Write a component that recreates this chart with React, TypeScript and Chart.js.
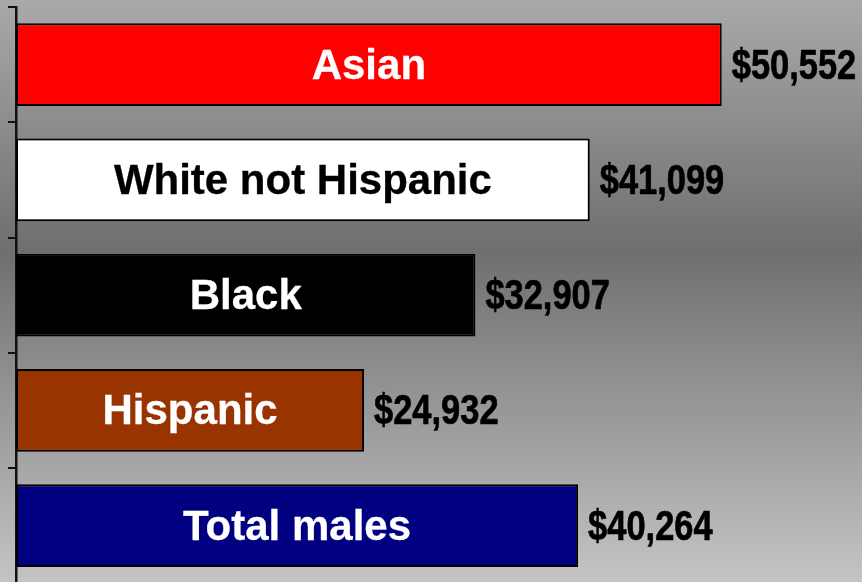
import React, { useEffect, useRef } from "react";
import { Chart, registerables } from "chart.js";

Chart.register(...registerables);

const categories = ["Asian", "White not Hispanic", "Black", "Hispanic", "Total males"];
const earnings = [50552, 41099, 32907, 24932, 40264];
const valueLabels = ["$50,552", "$41,099", "$32,907", "$24,932", "$40,264"];
const barColors = ["#ff0000", "#ffffff", "#000000", "#993300", "#000080"];
const textColors = ["#ffffff", "#000000", "#ffffff", "#ffffff", "#ffffff"];

const bgPlugin = {
  id: "bgGradient",
  beforeDraw(chart: any) {
    const { ctx, width } = chart;
    const g = ctx.createLinearGradient(0, 0, 0, 582);
    g.addColorStop(0, "#a9a9a9");
    g.addColorStop(0.43, "#6f6f6f");
    g.addColorStop(1, "#c4c4c4");
    ctx.save();
    ctx.fillStyle = g;
    ctx.fillRect(0, 0, width, chart.height);
    ctx.restore();
  },
};

const labelPlugin = {
  id: "barLabels",
  afterDatasetsDraw(chart: any) {
    const { ctx } = chart;
    const meta = chart.getDatasetMeta(0);
    ctx.save();
    meta.data.forEach((bar: any, i: number) => {
      const y = bar.y + 14;
      ctx.font = "bold 42px 'Liberation Sans', Arial, sans-serif";
      ctx.fillStyle = textColors[i];
      ctx.strokeStyle = textColors[i];
      ctx.lineWidth = 0.3;
      ctx.lineJoin = "round";
      ctx.textAlign = "center";
      ctx.textBaseline = "alphabetic";
      const cx = (bar.base + bar.x) / 2;
      ctx.fillText(categories[i], cx, y);
      ctx.strokeText(categories[i], cx, y);
      ctx.save();
      ctx.translate(bar.x + 10, y);
      ctx.scale(0.82, 1);
      ctx.textAlign = "left";
      ctx.fillStyle = "#000000";
      ctx.strokeStyle = "#000000";
      ctx.lineWidth = 0.7;
      ctx.fillText(valueLabels[i], 0, 0);
      ctx.strokeText(valueLabels[i], 0, 0);
      ctx.restore();
    });
    ctx.restore();
  },
};

export default function App() {
  const ref = useRef<HTMLCanvasElement | null>(null);
  useEffect(() => {
    document.body.style.margin = "0";
    const canvas = ref.current!;
    const chart = new Chart(canvas, {
      type: "bar",
      data: {
        labels: categories,
        datasets: [
          {
            data: earnings,
            backgroundColor: barColors,
            borderColor: "#000000",
            borderWidth: 2,
            borderSkipped: false,
            barPercentage: 0.72,
            categoryPercentage: 1,
          },
        ],
      },
      options: {
        indexAxis: "y",
        animation: false,
        responsive: false,
        devicePixelRatio: 1,
        layout: { padding: { left: 8, top: 7, bottom: 8.75, right: 0 } },
        plugins: { legend: { display: false }, tooltip: { enabled: false } },
        scales: {
          x: { display: false, min: 0, max: 60600 },
          y: {
            display: true,
            ticks: { display: false },
            grid: {
              display: true,
              drawOnChartArea: false,
              drawTicks: true,
              tickLength: 8,
              offset: true,
              color: "#111111",
              lineWidth: 2,
              tickWidth: 2,
              tickColor: "#111111",
            },
            border: { display: true, color: "#111111", width: 2.5 },
          },
        },
      },
      plugins: [bgPlugin, labelPlugin],
    });
    return () => chart.destroy();
  }, []);
  return (
    <div style={{ width: 862, height: 582, overflow: "hidden", position: "relative" }}>
      <canvas ref={ref} width={862} height={592} style={{ display: "block", width: 862, height: 592 }} />
    </div>
  );
}
